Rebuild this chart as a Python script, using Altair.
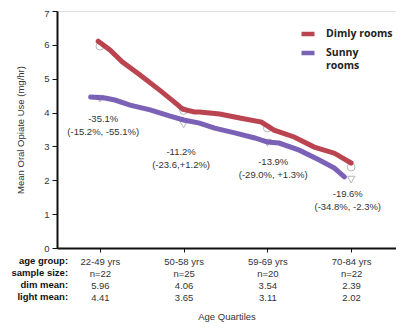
import altair as alt
import pandas as pd

# ---- data ----
age_groups = ["22-49 yrs", "50-58 yrs", "59-69 yrs", "70-84 yrs"]
sample_sizes = ["n=22", "n=25", "n=20", "n=22"]
dim_means = [5.96, 4.06, 3.54, 2.39]
light_means = [4.41, 3.65, 3.11, 2.02]
group_pos = [1, 2, 3, 4]

series_names = ["Dimly rooms", "Sunny rooms"]

# traced curves (x in quartile units, y in mg/hr)
dim_x = [0.98, 1.12, 1.27, 1.48, 1.71, 1.89, 1.99, 2.13, 2.19, 2.43, 2.67, 2.93, 3.08, 3.32, 3.56, 3.80, 4.0]
dim_y = [6.11, 5.85, 5.49, 5.11, 4.67, 4.31, 4.10, 4.02, 4.02, 3.96, 3.84, 3.72, 3.48, 3.28, 2.98, 2.80, 2.51]
sun_x = [0.89, 1.06, 1.18, 1.36, 1.60, 1.83, 2.0, 2.19, 2.37, 2.61, 2.85, 3.0, 3.14, 3.38, 3.62, 3.80, 3.92]
sun_y = [4.46, 4.43, 4.37, 4.22, 4.08, 3.90, 3.78, 3.69, 3.54, 3.40, 3.25, 3.13, 3.10, 2.89, 2.60, 2.36, 2.10]

ann_pct = ["-35.1%", "-11.2%", "-13.9%", "-19.6%"]
ann_ci = ["(-15.2%, -55.1%)", "(-23.6,+1.2%)", "(-29.0%, +1.3%)", "(-34.8%, -2.3%)"]
ann_x = [1.04, 1.97, 3.07, 3.96]
ann_y = [3.97, 2.97, 2.70, 1.74]

row_headers = ["age group:", "sample size:", "dim mean:", "light mean:"]

RED = "#b3303c"
PURPLE = "#6d51ae"
FONT = "Liberation Sans"

lines_df = pd.DataFrame(
    [{"x": a, "y": b, "series": series_names[0], "o": i} for i, (a, b) in enumerate(zip(dim_x, dim_y))]
    + [{"x": a, "y": b, "series": series_names[1], "o": i} for i, (a, b) in enumerate(zip(sun_x, sun_y))]
)
dim_df = pd.DataFrame({"x": group_pos, "y": dim_means})
sun_df = pd.DataFrame({"x": group_pos, "y": light_means})
ann_df = pd.DataFrame({"x": ann_x, "y": ann_y, "t": [[p, c] for p, c in zip(ann_pct, ann_ci)]})
hdr_df = pd.DataFrame({"x": [0.62], "y": [-0.24], "t": [row_headers]})

label_map = {
    str(p): [g, n, f"{d:.2f}", f"{l:.2f}"]
    for p, g, n, d, l in zip(group_pos, age_groups, sample_sizes, dim_means, light_means)
}
label_expr = "{" + ",".join(
    f"'{k}': [" + ",".join(f"'{s}'" for s in v) + "]" for k, v in label_map.items()
) + "}[datum.label]"

xscale = alt.Scale(domain=[0.488, 4.536], nice=False, zero=False)
yscale = alt.Scale(domain=[0, 7], nice=False)

xaxis = alt.Axis(
    values=group_pos, labelExpr=label_expr, title="Age Quartiles", grid=False,
    tickSize=4, labelPadding=4, labelBaseline="top", labelLineHeight=12,
    labelFont=FONT, labelFontSize=9.5, labelColor="#333", titleFont=FONT,
    titleFontSize=9.5, titleFontWeight="normal", titleColor="#333", titlePadding=10,
    domainColor="#111", domainWidth=2, tickColor="#111", labelFlush=False,
    labelOverlap=False,
)
yaxis = alt.Axis(
    values=list(range(8)), title="Mean Oral Opiate Use (mg/hr)", grid=False,
    tickSize=5, labelPadding=3, labelFont=FONT, labelFontSize=9.5, labelColor="#333",
    titleFont=FONT, titleFontSize=9.5, titleFontWeight="normal", titleColor="#333",
    titlePadding=18, domainColor="#111", domainWidth=2, tickColor="#111",
    labelOverlap=False,
    labelOffset={"condition": {"test": "datum.value == 7", "value": 2}, "value": 0},
)

X = alt.X("x:Q", scale=xscale, axis=xaxis)
Y = alt.Y("y:Q", scale=yscale, axis=yaxis)

markers_dim = alt.Chart(dim_df).mark_point(
    shape="circle", size=60, filled=False, stroke="#999", strokeWidth=1
).encode(x=X, y=Y)

markers_sun = alt.Chart(sun_df).mark_point(
    shape="triangle-down", size=60, filled=False, stroke="#999", strokeWidth=1
).encode(x=X, y=Y)

lines = alt.Chart(lines_df).mark_line(strokeWidth=5, strokeCap="round", opacity=0.9).encode(
    x=X,
    y=Y,
    order="o:Q",
    color=alt.Color(
        "series:N",
        scale=alt.Scale(domain=series_names, range=[RED, PURPLE]),
        legend=alt.Legend(
            title=None, orient="none", legendX=230, legendY=8,
            symbolType="stroke", symbolSize=169, symbolStrokeWidth=4.5,
            labelFont="Open Sans", labelFontSize=10.5, labelFontWeight="bold",
            labelColor="#222", labelLimit=200, labelOffset=9,
            labelExpr="datum.label == 'Sunny rooms' ? ['Sunny', 'rooms'] : datum.label",
            fillColor="white", padding=6, rowPadding=1, symbolOffset=6,
        ),
    ),
)

ann = alt.Chart(ann_df).mark_text(
    font=FONT, fontSize=9.5, color="#333", lineHeight=13, baseline="top"
).encode(x=X, y=Y, text="t")

hdr = alt.Chart(hdr_df).mark_text(
    font=FONT, fontSize=9.5, fontWeight="bold", color="#111", lineHeight=12,
    baseline="top", align="right",
).encode(x=X, y=Y, text="t")

chart = (
    alt.layer(markers_dim, markers_sun, lines, ann, hdr)
    .properties(
        width=339, height=237,
        autosize=alt.AutoSizeParams(type="none"),
        padding={"left": 49, "top": 3, "right": 0, "bottom": 74},
    )
    .configure_view(stroke="#111", strokeWidth=1.5)
    .configure(background="white")
)

chart.save("out.html", embed_options={"renderer": "svg", "actions": False})
